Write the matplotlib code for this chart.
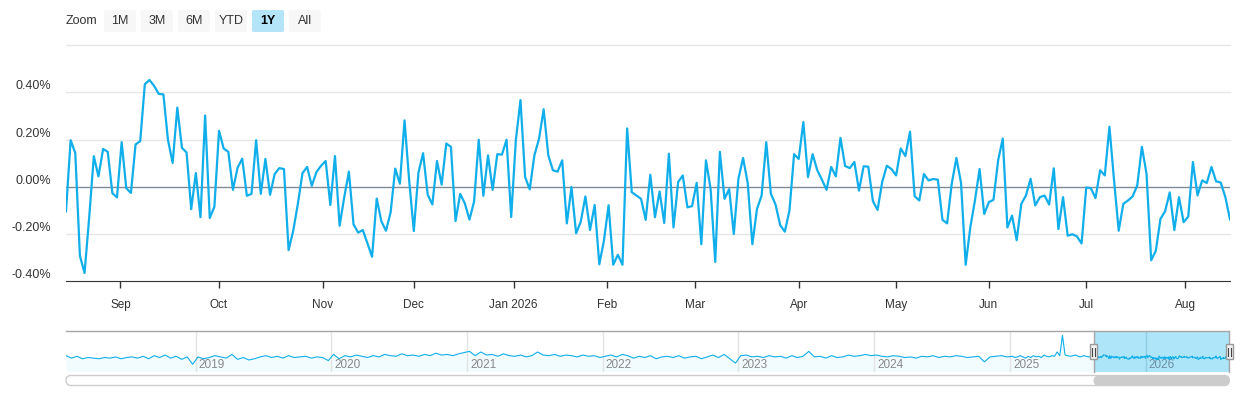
import numpy as np
import pandas as pd
import matplotlib
matplotlib.use('Agg')
import matplotlib.pyplot as plt
import matplotlib.dates as mdates
from matplotlib.patches import FancyBboxPatch, Rectangle

plt.rcParams['font.family'] = ['Liberation Sans', 'DejaVu Sans']

# daily % change, one value per trading day (Aug 14 2025 - Aug 14 2026)
pct_aug_nov = [-0.104, 0.197, 0.143, -0.292, -0.365, -0.13, 0.129, 0.044, 0.160, 0.148,
               -0.027, -0.045, 0.189, -0.006, -0.026, 0.179, 0.193, 0.434, 0.452, 0.427,
               0.393, 0.391, 0.197, 0.101, 0.335, 0.165, 0.145, -0.095, 0.058, -0.129,
               0.302, -0.132, -0.084, 0.237, 0.162, 0.148, -0.013, 0.081, 0.119, -0.038,
               -0.030, 0.197, -0.030, 0.118, -0.034, 0.054, 0.079, 0.075, -0.268, -0.186,
               -0.072, 0.058, 0.084, 0.004, 0.062, 0.089, 0.109, -0.077, 0.130, -0.165,
               -0.044, 0.064, -0.159, -0.194]
pct_nov_feb = [-0.183, -0.240, -0.296, -0.050, -0.146, -0.186, -0.108, 0.077, 0.013, 0.281,
               0.027, -0.187, 0.060, 0.142, -0.034, -0.075, 0.109, 0.009, 0.183, 0.169,
               -0.145, -0.030, -0.070, -0.139, -0.062, 0.199, -0.038, 0.133, -0.013, 0.138,
               0.136, 0.199, -0.128, 0.197, 0.367, 0.041, -0.011, 0.133, 0.203, 0.328,
               0.133, 0.070, 0.064, 0.112, -0.155, -0.001, -0.197, -0.148, -0.041, -0.183,
               -0.077, -0.328, -0.228, -0.078, -0.330, -0.288, -0.330, 0.247, -0.023, -0.037]
pct_feb_may = [-0.051, -0.140, 0.051, -0.129, -0.020, -0.153, 0.140, -0.172, 0.020, 0.048,
               -0.087, -0.082, 0.017, -0.243, 0.112, -0.009, -0.318, 0.148, -0.051, -0.010,
               -0.200, 0.034, 0.122, 0.016, -0.243, -0.094, -0.037, 0.189, -0.030, -0.075,
               -0.162, -0.190, -0.101, 0.138, 0.118, 0.274, 0.041, 0.138, 0.070, 0.030,
               -0.013, 0.084, 0.044, 0.207, 0.088, 0.079, 0.105, -0.016, 0.087, 0.085,
               -0.061, -0.098, 0.020, 0.089, 0.075, 0.048, 0.162, 0.130, 0.233, -0.040,
               -0.058, 0.054, 0.027, 0.033, 0.030]
pct_may_aug = [-0.140, -0.155, 0.013, 0.122, 0.017, -0.330, -0.172, -0.058, 0.075, -0.115,
               -0.065, -0.055, 0.112, 0.204, -0.172, -0.122, -0.226, -0.072, -0.037, 0.034,
               -0.079, -0.044, -0.037, -0.075, 0.078, -0.179, -0.044, -0.207, -0.201, -0.210,
               -0.240, -0.003, -0.006, -0.048, 0.070, 0.048, 0.254, 0.027, -0.186, -0.072,
               -0.058, -0.041, 0.006, 0.169, 0.055, -0.311, -0.271, -0.136, -0.104, -0.024,
               -0.183, -0.044, -0.150, -0.126, 0.105, -0.037, 0.027, 0.016, 0.084, 0.023,
               0.018, -0.044, -0.138]

nyse_holidays = ['2025-09-01', '2025-11-27', '2025-12-25', '2026-01-01', '2026-01-19',
                 '2026-02-16', '2026-04-03', '2026-05-25', '2026-06-19', '2026-07-03']

month_starts = pd.date_range('2025-09-01', '2026-08-01', freq='MS')
month_labels = ['Sep', 'Oct', 'Nov', 'Dec', 'Jan 2026', 'Feb', 'Mar', 'Apr', 'May', 'Jun', 'Jul', 'Aug']
ytick_vals = [-0.4, -0.2, 0.0, 0.2, 0.4]

# older history shown in the navigator (roughly two readings per month, weekly for 2025)
nav_2018 = [0.3, -0.1, 0.2, -0.2, 0.0, -0.1, -0.2, 0.0, -0.1, 0.1, -0.2, 0.0,
            0.1, -0.1, 0.2, -0.2, 0.3, 0.0, 0.4, -0.1, 0.2, -0.3, 0.1, -1.1]
nav_2019 = [0.1, -0.2, 0.0, 0.3, 0.1, -0.1, 0.5, -0.3, 0.0, -0.4, -0.2, 0.1,
            0.3, 0.0, 0.2, -0.1, 0.3, 0.0, 0.1, 0.2, -0.1, 0.1, 0.0, -0.5]
nav_2020 = [0.5, -0.2, 0.3, 0.1, 0.4, 0.2, 0.0, 0.3, 0.1, 0.5, 0.3, 0.2,
            0.6, 0.3, 0.4, 0.2, 0.5, 0.3, 0.7, 0.4, 0.5, 0.3, 0.6, 0.8]
nav_2021 = [1.0, 0.3, 0.9, 0.4, 0.5, 0.2, 0.6, 0.3, 0.2, 0.4, 0.1, 0.3,
            0.9, 0.4, 0.3, 0.5, 0.2, 0.4, 0.3, 0.1, 0.4, 0.2, 0.3, 0.0]
nav_2022 = [0.2, 0.4, 0.1, 0.5, 0.3, -0.1, 0.2, 0.0, 0.3, -0.2, 0.1, 0.2,
            0.0, 0.3, -0.1, 0.1, 0.2, -0.2, 0.1, 0.4, 0.0, 0.5, -0.2, -0.9]
nav_2023 = [0.3, 0.4, 0.1, 0.2, 0.0, 0.3, 0.1, 0.2, -0.1, 0.3, 0.0, 0.2,
            1.0, 0.1, 0.2, -0.1, 0.3, 0.0, 0.1, 0.4, 0.2, 0.3, 0.5, 0.3]
nav_2024 = [0.4, 0.2, 0.1, 0.3, 0.2, 0.0, 0.1, -0.1, 0.2, 0.1, 0.3, 0.0,
            0.2, 0.1, 0.3, 0.2, 0.0, 0.1, 0.2, -0.7, 0.1, 0.2, 0.3, 0.1]
nav_2025 = [0.2, 0.0, 0.1, 0.3, 0.1, -0.1, 0.2, 0.0, 0.3, 0.1, 0.2, 0.0, 0.4, 0.2, 0.1,
            0.3, 0.2, 0.9, 0.3, 3.6, 0.4, 0.3, 0.2, 0.3, 0.4, 0.2, 0.1, 0.3, 0.2, 0.1, 0.2]

line_color = '#10aeea'

values = np.array(pct_aug_nov + pct_nov_feb + pct_feb_may + pct_may_aug)
dates = pd.bdate_range('2025-08-14', '2026-08-14', freq='C', holidays=nyse_holidays)
idx = np.arange(len(values))

fig = plt.figure(figsize=(12.4, 4), dpi=100)

# main chart, ordinal x axis like Highcharts Stock
ax = fig.add_axes([66 / 1240, 1 - 281.3 / 400, 1164 / 1240, 236.3 / 400])
ax.plot(idx, values, color=line_color, lw=1.6, zorder=3)
ax.set_xlim(0, len(values) - 1)
ax.set_ylim(-0.4, 0.6)
for y in [-0.2, 0.2, 0.4, 0.6]:
    ax.axhline(y, color='#e6e6e6', lw=1, zorder=1, clip_on=False)
ax.axhline(0, color='#7f8b99', lw=1, zorder=2)
for s in ['top', 'left', 'right']:
    ax.spines[s].set_visible(False)
ax.spines['bottom'].set_color('#333333')
ax.set_yticks([])

date_nums = mdates.date2num(dates)
tick_pos = np.interp(mdates.date2num(month_starts), date_nums, idx)
ax.set_xticks(tick_pos)
ax.set_xticklabels(month_labels, fontsize=8.5, color='#333333')
ax.tick_params(axis='x', length=5, width=1, color='#333333', pad=8)

for y in ytick_vals:
    ax.annotate(f'{y:.2f}%', xy=(0, y), xycoords=('axes fraction', 'data'),
                xytext=(-15, 6), textcoords='offset pixels',
                ha='right', va='center', fontsize=9, color='#333333')

# navigator
nav_dates = []
nav_vals = []
old_years = [(nav_2018, '2018-01-17', '2018-12-24'), (nav_2019, '2019-01-07', '2019-12-24'),
             (nav_2020, '2020-01-07', '2020-12-24'), (nav_2021, '2021-01-07', '2021-12-24'),
             (nav_2022, '2022-01-07', '2022-12-24'), (nav_2023, '2023-01-07', '2023-12-24'),
             (nav_2024, '2024-01-07', '2024-12-24'), (nav_2025, '2025-01-07', '2025-08-08')]
for vals, start, end in old_years:
    nav_dates.extend(pd.date_range(start, end, periods=len(vals)))
    nav_vals.extend(vals)
nav_dates.extend(dates)
nav_vals.extend(values)
nav_x = mdates.date2num(pd.DatetimeIndex(nav_dates))
nav_vals = np.array(nav_vals)

nav = fig.add_axes([66 / 1240, 1 - 371.7 / 400, 1163.3 / 1240, 40.7 / 400])
nav_lo, nav_hi = -2.3, 4.3
nav.fill_between(nav_x, nav_vals, nav_lo, color='#f2fbfe', lw=0, zorder=1)
sel_lo = mdates.date2num(pd.Timestamp('2025-08-14'))
sel_hi = mdates.date2num(pd.Timestamp('2026-08-14'))
nav.axvspan(sel_lo, sel_hi, color='#a0e1f7', alpha=0.85, lw=0, zorder=2)
for yr in range(2019, 2027):
    xd = mdates.date2num(pd.Timestamp(f'{yr}-01-01'))
    in_sel = xd > sel_lo
    nav.axvline(xd, color='#8ecde4' if in_sel else '#e3e3e3', lw=1, zorder=2.2)
    nav.annotate(str(yr), xy=(xd, 0), xycoords=('data', 'axes fraction'),
                 xytext=(3, 4), textcoords='offset pixels',
                 ha='left', va='baseline', fontsize=8.5,
                 color='#6e8fa3' if in_sel else '#888888', zorder=2.3)
nav.plot(nav_x, nav_vals, color=line_color, lw=0.8, zorder=3)
nav.set_xlim(mdates.date2num(pd.Timestamp('2018-01-17')), sel_hi)
nav.set_ylim(nav_lo, nav_hi)
nav.axis('off')

# range selector, handles and scrollbar drawn in pixel space
ov = fig.add_axes([0, 0, 1, 1], zorder=5)
ov.set_xlim(0, 1240)
ov.set_ylim(400, 0)
ov.axis('off')

ov.plot([66, 1229.3], [331, 331], color='#a6a6a6', lw=1)
for xe in [1093.5, 1229.3]:
    ov.plot([xe, xe], [331, 371.7], color='#a6a6a6', lw=1)
    ov.add_patch(Rectangle((xe - 3.5, 344), 7, 15, facecolor='#f2f2f2',
                           edgecolor='#999999', lw=1, zorder=6))
    for dx in [-1.2, 1.2]:
        ov.plot([xe + dx, xe + dx], [347.5, 355.5], color='#444444', lw=0.8, zorder=7)

ov.add_patch(FancyBboxPatch((66, 375.5), 1163.3, 10, boxstyle='round,pad=0,rounding_size=5',
                            facecolor='white', edgecolor='#cccccc', lw=1))
ov.add_patch(FancyBboxPatch((1093.5, 375.7), 135.8, 10, boxstyle='round,pad=0,rounding_size=5',
                            facecolor='#cccccc', edgecolor='none', lw=0))

ov.text(66, 21.5, 'Zoom', ha='left', va='center', fontsize=9, color='#333333')
buttons = ['1M', '3M', '6M', 'YTD', '1Y', 'All']
btn_left = [104, 140.7, 178, 215, 252, 288.7]
for label, bx in zip(buttons, btn_left):
    selected = label == '1Y'
    ov.add_patch(FancyBboxPatch((bx, 10), 32, 22, boxstyle='round,pad=0,rounding_size=2',
                                facecolor='#b4e4f7' if selected else '#f7f7f7',
                                edgecolor='none'))
    ov.text(bx + 16, 21.5, label, ha='center', va='center', fontsize=9,
            color='#000000' if selected else '#333333',
            fontweight='bold' if selected else 'normal')

fig.savefig('out.png', dpi=100)
